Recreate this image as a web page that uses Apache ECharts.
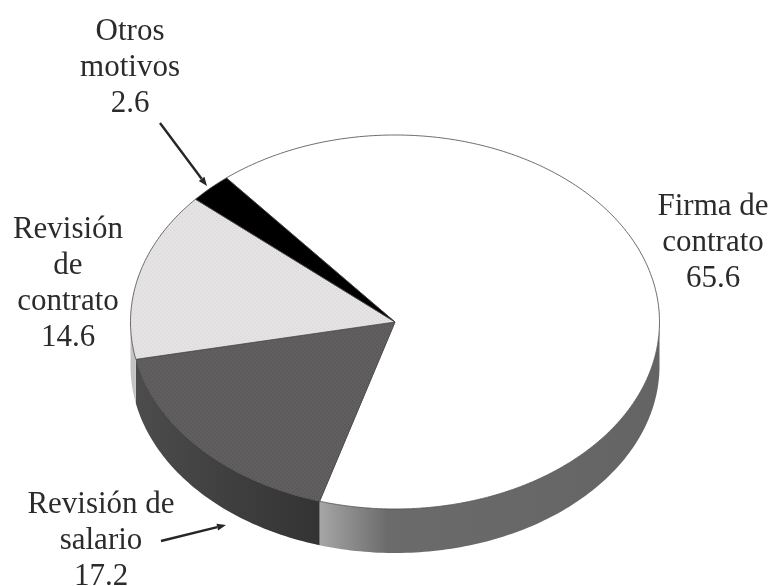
<!DOCTYPE html>
<html>
<head>
<meta charset="utf-8">
<style>html,body{margin:0;padding:0;background:#fff}#c{width:771px;height:586px}</style>
<script src="https://cdn.jsdelivr.net/npm/echarts@6/dist/echarts.min.js"></script>
</head>
<body>
<div id="c"></div>
<script>
const categories = ["Firma de contrato", "Revisión de salario", "Revisión de contrato", "Otros motivos"];
const values = [65.6, 17.2, 14.6, 2.6];
const labelLines = [
  ["Firma de", "contrato"],
  ["Revisión de", "salario"],
  ["Revisión", "de", "contrato"],
  ["Otros", "motivos"]
];

function mesh(base, dot) {
  const c = document.createElement('canvas');
  c.width = 4; c.height = 4;
  const g = c.getContext('2d');
  g.fillStyle = base; g.fillRect(0,0,4,4);
  g.fillStyle = dot; g.fillRect(0,0,1,1); g.fillRect(2,2,1,1);
  return {image:c, repeat:'repeat'};
}
const topFill = ["#ffffff", mesh("#605e5f","#555354"), mesh("#e4e2e3","#d9d7d8"), "#000000"];
const sideFill = [
  {type:'linear',x:0,y:0,x2:1,y2:0,colorStops:[{offset:0,color:'#a6a6a6'},{offset:0.2,color:'#6b6b6b'},{offset:1,color:'#646464'}]},
  {type:'linear',x:0,y:0,x2:1,y2:0,colorStops:[{offset:0,color:'#4c4c4c'},{offset:1,color:'#333333'}]},
  '#c4c4c4', '#000000'
];
const labelCenter = [[713,207],[101,505],[68,230],[130,32]];
const CX = 395, CY = 322, RX = 264.5, RY = 187, DEPTH = 44, START = 129.6, LINE = 36;
const total = values.reduce((a,b)=>a+b,0);
const pt = (deg, dy) => {
  const r = deg*Math.PI/180;
  return [CX + RX*Math.cos(r), CY - RY*Math.sin(r) + (dy||0)];
};
const arc = (a, b, dy) => {
  const out = [], n = Math.max(2, Math.ceil(Math.abs(a-b)));
  for (let i=0;i<=n;i++) out.push(pt(a+(b-a)*i/n, dy));
  return out;
};
function renderSlice(params, api) {
  const i = params.dataIndex;
  let before = 0;
  for (let k=0;k<i;k++) before += values[k];
  const a0 = START - before/total*360;
  const a1 = a0 - api.value(0)/total*360;
  const kids = [];
  // visible rim: the part of the slice on the front half (angles -180..0)
  const fa = Math.min(a0, 0), fb = Math.max(a1, -180);
  if (fa > fb) {
    const upper = arc(fa, fb, 0), lower = arc(fb, fa, DEPTH);
    kids.push({type:'polygon', shape:{points:upper.concat(lower)},
      style:{fill:sideFill[i], stroke:null}});
  }
  const top = [[CX,CY]].concat(arc(a0,a1,0));
  kids.push({type:'polygon', shape:{points:top},
    style:{fill:topFill[i], stroke:'#4a4a4a', lineWidth:0.8}});
  const lines = labelLines[i].concat([String(api.value(0))]);
  lines.forEach((t,j)=>kids.push({type:'text', z2:10, style:{
    text:t, x:labelCenter[i][0], y:labelCenter[i][1]+j*LINE,
    align:'center', verticalAlign:'middle',
    font:'31px "Liberation Serif"', fill:'#2b2b2b'}}));
  return {type:'group', children:kids};
}
const arrow = (x1,y1,x2,y2) => {
  const a = Math.atan2(y2-y1,x2-x1), L=9, W=3.5;
  const bx=x2-L*Math.cos(a), by=y2-L*Math.sin(a);
  return {type:'group', silent:true, children:[
    {type:'line', shape:{x1,y1,x2:bx,y2:by}, style:{stroke:'#262626',lineWidth:2.4}},
    {type:'polygon', shape:{points:[[x2,y2],[bx+W*Math.sin(a),by-W*Math.cos(a)],[bx-W*Math.sin(a),by+W*Math.cos(a)]]}, style:{fill:'#262626'}}
  ]};
};
const chart = echarts.init(document.getElementById('c'), null, {renderer:'canvas'});
chart.setOption({
  animation:false,
  backgroundColor:'#ffffff',
  series:[{
    type:'custom', coordinateSystem:'none', name:'Motivos',
    renderItem:renderSlice,
    data:values.map((v,i)=>({name:categories[i], value:[v]}))
  }],
  graphic:[arrow(160,123,207,186), arrow(161,541,226,525)]
});
</script>
</body>
</html>
